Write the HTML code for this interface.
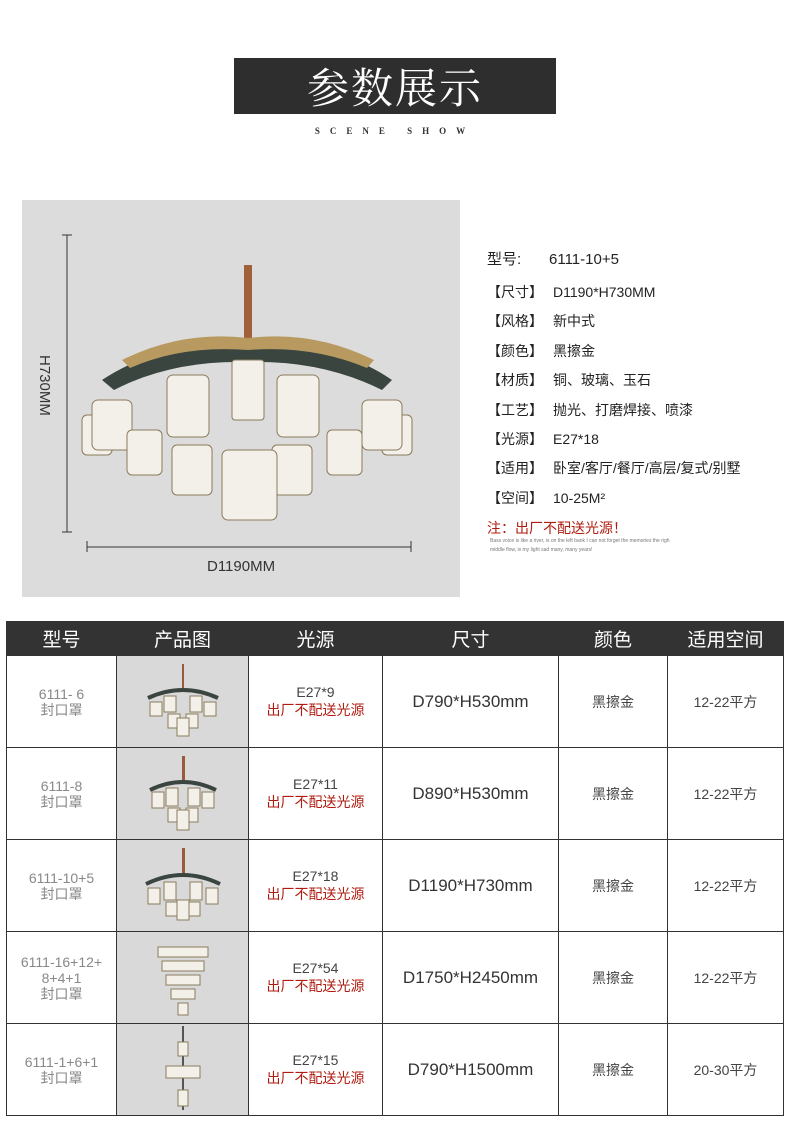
<!DOCTYPE html>
<html><head><meta charset="utf-8"><style>
body{margin:0;width:790px;height:1132px;background:#fff;position:relative;font-family:"Liberation Sans","Noto Sans CJK SC",sans-serif;overflow:hidden}
.abs{position:absolute}
.spec{position:absolute;left:487px;font-size:14px;color:#222;white-space:nowrap}
.spec b{font-weight:normal;display:inline-block;width:66px}
table{position:absolute;left:6px;top:621px;border-collapse:collapse;table-layout:fixed}
td,th{border:1px solid #333;text-align:center;padding:0;font-weight:normal}
th{background:#333;color:#fff;font-size:19px;height:33px;border-color:#333}
td{height:91px;font-size:14px;color:#444}
td.m{color:#888;font-size:14px;line-height:16px}
td.img{background:#d9d9d9}
.r{color:#b01c10}
td.sz{font-size:17px;color:#333}
</style></head><body>
<div class="abs" style="left:234px;top:58px;width:322px;height:56px;background:#2e2e2e;color:#fff;font:42px 'Noto Serif CJK SC',serif;text-align:center;line-height:56px;letter-spacing:2px">参数展示</div>
<div class="abs" style="left:234px;top:126px;width:322px;text-align:center;font:bold 9px 'Liberation Serif',serif;letter-spacing:10px;color:#333">SCENE SHOW</div>
<div class="abs" style="left:22px;top:200px;width:438px;height:397px;background:#dcdcdc"></div>
<svg class="abs" style="left:22px;top:200px" width="438" height="397">
<g stroke="#333" stroke-width="1" fill="none">
<line x1="45" y1="35" x2="45" y2="332"/><line x1="40" y1="35" x2="50" y2="35"/><line x1="40" y1="332" x2="50" y2="332"/>
<line x1="65" y1="347" x2="389" y2="347"/><line x1="65" y1="341" x2="65" y2="352"/><line x1="389" y1="341" x2="389" y2="352"/>
</g>
<text x="0" y="0" transform="translate(18,155) rotate(90)" font-size="15" fill="#333" font-family="Liberation Sans">H730MM</text>
<text x="185" y="371" font-size="15" fill="#333" font-family="Liberation Sans">D1190MM</text>
<rect x="222" y="65" width="8" height="80" fill="#a0603a"/>
<path d="M80 180 Q140 140 226 145 Q312 140 370 180 L360 190 Q300 160 226 162 Q150 160 92 190Z" fill="#3a4540"/>
<path d="M100 160 Q160 130 226 138 Q292 130 352 160 L345 168 Q290 145 226 150 Q160 145 108 168Z" fill="#b89a60"/>
<g fill="#f3f0ea" stroke="#8a7a5a" stroke-width="1">
<rect x="60" y="215" width="30" height="40" rx="5"/><rect x="360" y="215" width="30" height="40" rx="5"/>
<rect x="70" y="200" width="40" height="50" rx="6"/><rect x="340" y="200" width="40" height="50" rx="6"/>
<rect x="145" y="175" width="42" height="62" rx="6"/><rect x="255" y="175" width="42" height="62" rx="6"/>
<rect x="105" y="230" width="35" height="45" rx="5"/><rect x="305" y="230" width="35" height="45" rx="5"/>
<rect x="150" y="245" width="40" height="50" rx="5"/><rect x="250" y="245" width="40" height="50" rx="5"/>
<rect x="200" y="250" width="55" height="70" rx="6"/>
<rect x="210" y="160" width="32" height="60" rx="3"/>
</g>
</svg>
<div class="spec" style="top:248px;font-size:15px"><b style="width:62px">型号:</b>6111-10+5</div>
<div class="spec" style="top:282px"><b>【尺寸】</b>D1190*H730MM</div>
<div class="spec" style="top:311px"><b>【风格】</b>新中式</div>
<div class="spec" style="top:341px"><b>【颜色】</b>黑擦金</div>
<div class="spec" style="top:370px"><b>【材质】</b>铜、玻璃、玉石</div>
<div class="spec" style="top:400px"><b>【工艺】</b>抛光、打磨焊接、喷漆</div>
<div class="spec" style="top:429px"><b>【光源】</b>E27*18</div>
<div class="spec" style="top:458px"><b>【适用】</b>卧室/客厅/餐厅/高层/复式/别墅</div>
<div class="spec" style="top:488px"><b>【空间】</b>10-25M²</div>
<div class="spec r" style="top:518px">注：出厂不配送光源！</div>
<div class="abs" style="left:490px;top:537px;font-size:5px;color:#777;line-height:9px">Bass voice is like a river, is on the left bank I can not forget the memories the righ<br>middle flow, is my light sad many, many years!</div>
<table>
<colgroup><col style="width:110px"><col style="width:132px"><col style="width:134px"><col style="width:176px"><col style="width:109px"><col style="width:116px"></colgroup>
<tr><th>型号</th><th>产品图</th><th>光源</th><th>尺寸</th><th>颜色</th><th>适用空间</th></tr>
<tr><td class="m">6111- 6<br>封口罩</td><td class="img"><svg width="90" height="80"><rect x="44" y="4" width="2" height="26" fill="#9a5a3a"/><path d="M10 38 Q45 22 80 38" stroke="#3a4540" stroke-width="4" fill="none"/><g fill="#f3f0ea" stroke="#8a7a5a"><rect x="12" y="42" width="12" height="14"/><rect x="66" y="42" width="12" height="14"/><rect x="26" y="36" width="12" height="16"/><rect x="52" y="36" width="12" height="16"/><rect x="30" y="54" width="12" height="14"/><rect x="48" y="54" width="12" height="14"/><rect x="39" y="58" width="12" height="18"/></g></svg></td><td>E27*9<br><span class="r">出厂不配送光源</span></td><td class="sz">D790*H530mm</td><td>黑擦金</td><td>12-22平方</td></tr>
<tr><td class="m">6111-8<br>封口罩</td><td class="img"><svg width="90" height="80"><rect x="44" y="4" width="3" height="26" fill="#9a5a3a"/><path d="M12 38 Q45 22 78 38" stroke="#3a4540" stroke-width="4" fill="none"/><g fill="#f3f0ea" stroke="#8a7a5a"><rect x="14" y="40" width="12" height="16"/><rect x="64" y="40" width="12" height="16"/><rect x="28" y="36" width="12" height="18"/><rect x="50" y="36" width="12" height="18"/><rect x="30" y="56" width="12" height="14"/><rect x="48" y="56" width="12" height="14"/><rect x="39" y="58" width="12" height="20"/></g></svg></td><td>E27*11<br><span class="r">出厂不配送光源</span></td><td class="sz">D890*H530mm</td><td>黑擦金</td><td>12-22平方</td></tr>
<tr><td class="m">6111-10+5<br>封口罩</td><td class="img"><svg width="90" height="80"><rect x="44" y="4" width="3" height="26" fill="#9a5a3a"/><path d="M8 40 Q45 22 82 40" stroke="#3a4540" stroke-width="4" fill="none"/><g fill="#f3f0ea" stroke="#8a7a5a"><rect x="10" y="44" width="12" height="16"/><rect x="68" y="44" width="12" height="16"/><rect x="26" y="38" width="12" height="18"/><rect x="52" y="38" width="12" height="18"/><rect x="28" y="58" width="12" height="14"/><rect x="50" y="58" width="12" height="14"/><rect x="39" y="56" width="12" height="20"/></g></svg></td><td>E27*18<br><span class="r">出厂不配送光源</span></td><td class="sz">D1190*H730mm</td><td>黑擦金</td><td>12-22平方</td></tr>
<tr><td class="m">6111-16+12+<br>8+4+1<br>封口罩</td><td class="img"><svg width="90" height="86"><g fill="#f3f0ea" stroke="#8a7a5a"><rect x="20" y="14" width="50" height="10"/><rect x="24" y="28" width="42" height="10"/><rect x="28" y="42" width="34" height="10"/><rect x="33" y="56" width="24" height="10"/><rect x="40" y="70" width="10" height="12"/></g></svg></td><td>E27*54<br><span class="r">出厂不配送光源</span></td><td class="sz">D1750*H2450mm</td><td>黑擦金</td><td>12-22平方</td></tr>
<tr><td class="m">6111-1+6+1<br>封口罩</td><td class="img"><svg width="90" height="88"><rect x="44" y="2" width="2" height="84" fill="#555"/><g fill="#f3f0ea" stroke="#8a7a5a"><rect x="40" y="18" width="10" height="14"/><rect x="28" y="42" width="34" height="12"/><rect x="40" y="66" width="10" height="16"/></g></svg></td><td>E27*15<br><span class="r">出厂不配送光源</span></td><td class="sz">D790*H1500mm</td><td>黑擦金</td><td>20-30平方</td></tr>
</table>
</body></html>
